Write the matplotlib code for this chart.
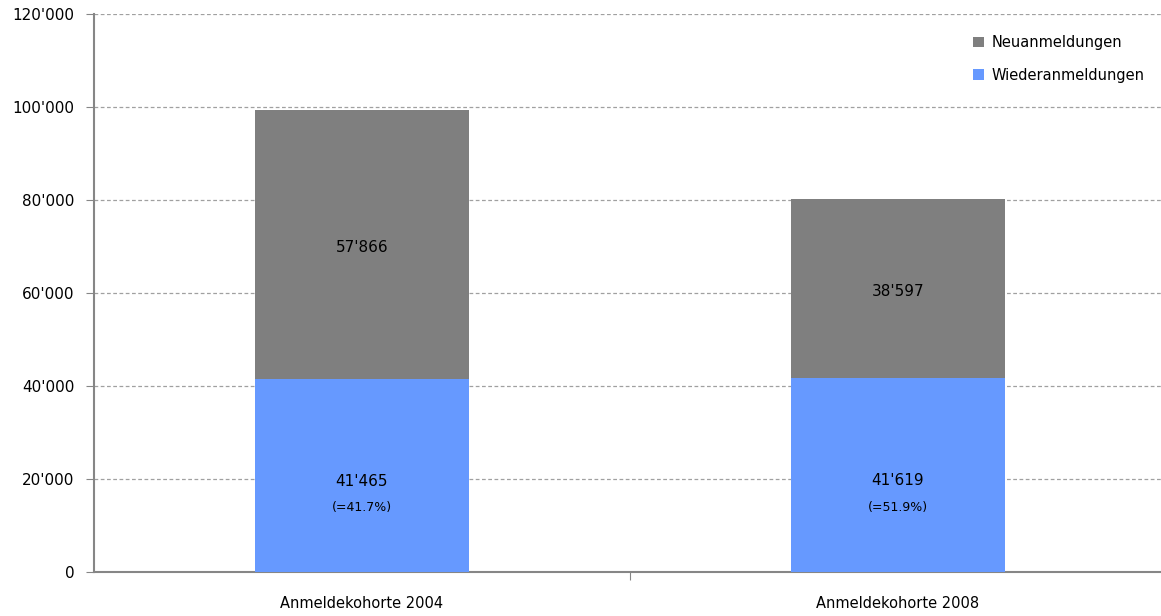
import numpy as np
import matplotlib.pyplot as plt
from matplotlib.ticker import FuncFormatter

categories = ['Anmeldekohorte 2004', 'Anmeldekohorte 2008']
wieder = [41465, 41619]
neu = [57866, 38597]
anteil = ['(=41.7%)', '(=51.9%)']

blue = '#6699ff'
gray = '#7f7f7f'
axcol = '#868686'

plt.rcParams['font.family'] = ['DejaVu Sans']

fig = plt.figure(figsize=(11.61, 6.16), dpi=100)
ax = fig.add_axes([94 / 1161, 1 - 572 / 616, (1166 - 94) / 1161, (572 - 14) / 616])

x = np.arange(len(categories))
ax.bar(x, wieder, width=0.4, color=blue, label='Wiederanmeldungen', zorder=3)
ax.bar(x, neu, width=0.4, bottom=wieder, color=gray, label='Neuanmeldungen', zorder=3)

fmt = lambda v: f"{int(v):,}".replace(',', "'")

for i in range(len(categories)):
    ax.annotate(fmt(wieder[i]), (x[i], wieder[i] / 2), xytext=(0, -4),
                textcoords='offset points', ha='center', va='center', fontsize=11, zorder=4)
    ax.annotate(anteil[i], (x[i], wieder[i] / 2), xytext=(0, -23),
                textcoords='offset points', ha='center', va='center', fontsize=9, zorder=4)
    ax.annotate(fmt(neu[i]), (x[i], wieder[i] + neu[i] / 2), xytext=(0, -2),
                textcoords='offset points', ha='center', va='center', fontsize=11, zorder=4)

ax.set_xlim(-0.5, 1.5)
ax.set_ylim(0, 120000)
ax.set_yticks(np.arange(0, 120001, 20000))
ax.yaxis.set_major_formatter(FuncFormatter(lambda v, p: fmt(v)))
ax.yaxis.grid(True, linestyle=(0, (3, 2)), color='#a0a0a0', linewidth=0.9, zorder=0)

ax.set_xticks([0.5])
ax.set_xticklabels([])
ax.set_xticks(x, minor=True)
ax.set_xticklabels(categories, minor=True, fontsize=10.5)
ax.tick_params(axis='x', which='minor', length=0, pad=17)
ax.tick_params(axis='x', which='major', length=6, color=axcol, direction='out')
ax.tick_params(axis='y', length=6, color=axcol, labelsize=11, pad=8)

for s in ['top', 'right']:
    ax.spines[s].set_visible(False)
for s in ['left', 'bottom']:
    ax.spines[s].set_color(axcol)
    ax.spines[s].set_linewidth(1.5)

h, l = ax.get_legend_handles_labels()
ax.legend(h[::-1], l[::-1], loc='upper right', bbox_to_anchor=(1158 / 1161, 1 - 22 / 616),
          bbox_transform=fig.transFigure, frameon=False, fontsize=10.5,
          handlelength=0.75, handleheight=0.75, handletextpad=0.55, labelspacing=1.2)

fig.savefig('out.png', dpi=100)
